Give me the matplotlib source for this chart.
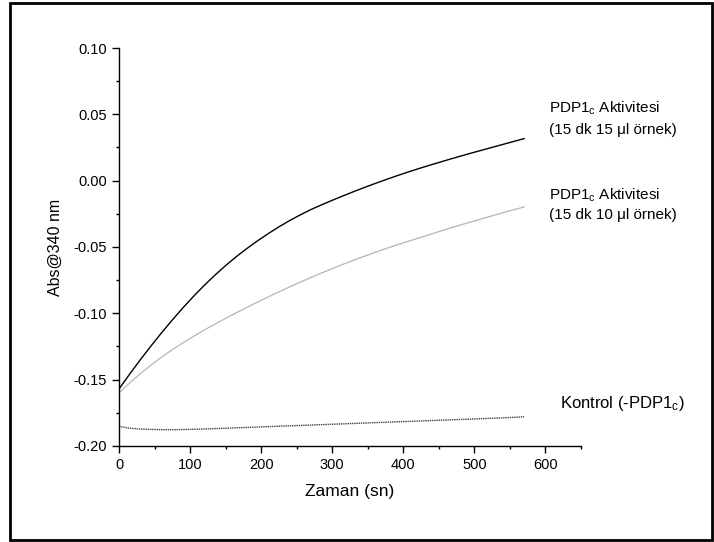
import numpy as np
import matplotlib.pyplot as plt
from matplotlib.patches import Rectangle
from matplotlib.ticker import MultipleLocator

plt.rcParams['font.family'] = ['Liberation Sans', 'DejaVu Sans']
plt.rcParams['mathtext.fontset'] = 'custom'
plt.rcParams['mathtext.rm'] = 'Liberation Sans'
plt.rcParams['mathtext.it'] = 'Liberation Sans'

# time points (s)
t = [0, 15, 30, 45, 60, 75, 90, 105, 120, 135, 150, 165, 180, 195, 210, 225, 240, 255, 270, 285,
     300, 315, 330, 345, 360, 375, 390, 405, 420, 435, 450, 465, 480, 495, 510, 525, 540, 555, 570]

# 15 dk, 15 ul sample
abs_15ul = [-0.1570, -0.1458, -0.1350, -0.1246, -0.1146, -0.1050, -0.0958, -0.0871, -0.0789, -0.0712,
            -0.0640, -0.0573, -0.0511, -0.0453, -0.0399, -0.0348, -0.0301, -0.0258, -0.0218, -0.0182,
            -0.0148, -0.0115, -0.0083, -0.0052, -0.0022, 0.0007, 0.0035, 0.0062, 0.0088, 0.0113,
            0.0137, 0.0161, 0.0184, 0.0207, 0.0229, 0.0251, 0.0273, 0.0295, 0.0317]

# 15 dk, 10 ul sample
abs_10ul = [-0.1600, -0.1525, -0.1455, -0.1390, -0.1330, -0.1274, -0.1222, -0.1173, -0.1126, -0.1081,
            -0.1038, -0.0996, -0.0955, -0.0915, -0.0876, -0.0838, -0.0801, -0.0765, -0.0730, -0.0696,
            -0.0663, -0.0631, -0.0600, -0.0570, -0.0541, -0.0513, -0.0486, -0.0460, -0.0435, -0.0410,
            -0.0384, -0.0359, -0.0335, -0.0311, -0.0288, -0.0265, -0.0242, -0.0220, -0.0198]

# control without enzyme
abs_ctrl = [-0.1852, -0.1866, -0.1872, -0.1875, -0.1877, -0.1877, -0.1876, -0.1874, -0.1872, -0.1869,
            -0.1866, -0.1863, -0.1860, -0.1857, -0.1854, -0.1851, -0.1848, -0.1845, -0.1842, -0.1839,
            -0.1836, -0.1833, -0.1830, -0.1827, -0.1824, -0.1821, -0.1818, -0.1815, -0.1812, -0.1809,
            -0.1806, -0.1803, -0.1800, -0.1797, -0.1794, -0.1791, -0.1788, -0.1784, -0.1780]

fig = plt.figure(figsize=(7.14, 5.42), dpi=100)
ax = fig.add_axes([119 / 714, 1 - 446 / 542, 462 / 714, 398 / 542])

ax.plot(t, abs_15ul, color='black', lw=1.0)
ax.plot(t, abs_10ul, color='#b5b5b5', lw=0.9)
ax.plot(t, abs_ctrl, color='#444444', lw=1.0, linestyle=(0, (1, 0.6)))

ax.set_xlim(0, 650)
ax.set_ylim(-0.20, 0.10)
ax.xaxis.set_major_locator(MultipleLocator(100))
ax.xaxis.set_minor_locator(MultipleLocator(50))
ax.yaxis.set_minor_locator(MultipleLocator(0.025))
ax.set_yticks([0.10, 0.05, 0.00, -0.05, -0.10, -0.15, -0.20])
ax.set_yticklabels(['0.10', '0.05', '0.00', '-0.05', '-0.10', '-0.15', '-0.20'])

for s in ['top', 'right']:
    ax.spines[s].set_visible(False)
for s in ['left', 'bottom']:
    ax.spines[s].set_linewidth(1.0)
ax.tick_params(which='major', direction='out', length=5, width=1, labelsize=10.5, pad=3.5)
ax.tick_params(which='minor', direction='out', length=2.5, width=1)

ax.set_xlabel('Zaman (sn)', fontsize=12.5, labelpad=9)
ax.set_ylabel('Abs@340 nm', fontsize=11.5, labelpad=8)

# curve labels
kw = dict(fontsize=11, ha='left', va='center', clip_on=False)
ax.text(605, 0.0548, 'PDP1$_{c}$ Aktivitesi', **kw)
ax.text(605, 0.0382, '(15 dk 15 μl örnek)', **kw)
ax.text(605, -0.0108, 'PDP1$_{c}$ Aktivitesi', **kw)
ax.text(605, -0.0259, '(15 dk 10 μl örnek)', **kw)
ax.text(620, -0.1683, 'Kontrol (-PDP1$_{c}$)', fontsize=12, ha='left', va='center', clip_on=False)

# outer frame
fig.patches.append(Rectangle((10 / 714, 2 / 542), 702 / 714, 537 / 542,
                             transform=fig.transFigure, fill=False,
                             edgecolor='black', lw=2))

fig.savefig('out.png', dpi=100)
